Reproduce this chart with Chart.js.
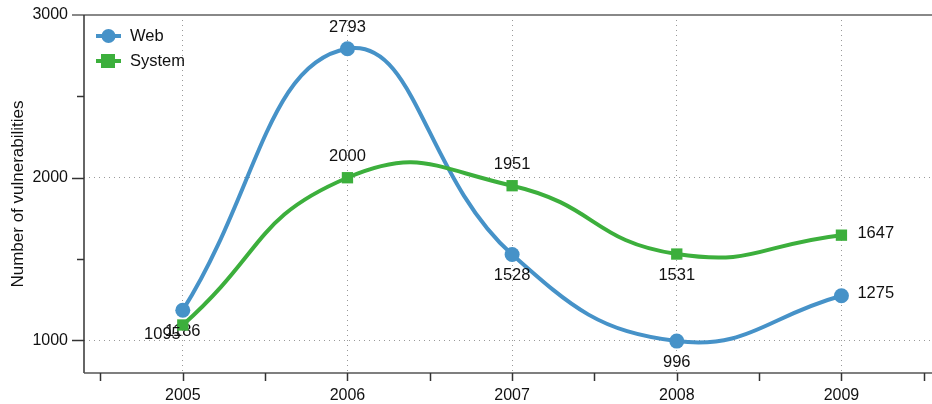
<!DOCTYPE html>
<html>
<head>
<meta charset="utf-8">
<script src="https://cdn.jsdelivr.net/npm/chart.js@4"></script>
<style>
  html, body { margin: 0; padding: 0; background: #fff; }
  #wrap { width: 932px; height: 404px; position: relative; }
</style>
</head>
<body>
<div id="wrap"><canvas id="vulnChart"></canvas></div>
<script>
// chart data
const years = [2005, 2006, 2007, 2008, 2009];
const webValues = [1186, 2793, 1528, 996, 1275];
const systemValues = [1095, 2000, 1951, 1531, 1647];
const yTicks = [1000, 2000, 3000];

// where each value label sits relative to its point
const webLabelPos = ['below', 'above', 'below', 'below', 'right'];
const systemLabelPos = ['leftbelow', 'above', 'above', 'below', 'right'];

const WEB_COLOR = '#4692c8';
const SYS_COLOR = '#3caf3c';
const FONT = '"Liberation Sans", Arial, Helvetica, sans-serif';

function toPoints(values) {
    return years.map((yr, i) => ({ x: yr, y: values[i] }));
}

// value labels, drawn right after each dataset so later series cover them
const valueLabels = {
    id: 'valueLabels',
    afterDatasetDraw(chart, args) {
        const ctx = chart.ctx;
        const ds = chart.data.datasets[args.index];
        const pos = ds.labelPos;
        ctx.save();
        ctx.font = '16.5px ' + FONT;
        ctx.fillStyle = '#111';
        args.meta.data.forEach((pt, i) => {
            const text = String(ds.data[i].y);
            let x = pt.x, y = pt.y;
            ctx.textAlign = 'center';
            ctx.textBaseline = 'middle';
            if (pos[i] === 'above') { y -= 21; }
            else if (pos[i] === 'below') { y += 21; }
            else if (pos[i] === 'right') { x += 16; y -= 2; ctx.textAlign = 'left'; }
            else if (pos[i] === 'leftbelow') { x -= 2; y += 9; ctx.textAlign = 'right'; }
            ctx.fillText(text, x, y);
        });
        ctx.restore();
    }
};

// axis frame, tick marks and the legend
const frame = {
    id: 'frame',
    beforeDatasetsDraw(chart) {
        const ctx = chart.ctx;
        const xs = chart.scales.x, ys = chart.scales.y;
        const area = chart.chartArea;
        ctx.save();
        // top line at 3000
        ctx.strokeStyle = '#888';
        ctx.lineWidth = 2;
        const yTop = ys.getPixelForValue(3000);
        ctx.beginPath();
        ctx.moveTo(area.left - 12, yTop);
        ctx.lineTo(chart.width, yTop);
        ctx.stroke();
        // left axis
        ctx.strokeStyle = '#333';
        ctx.lineWidth = 1.5;
        ctx.beginPath();
        ctx.moveTo(area.left, yTop);
        ctx.lineTo(area.left, area.bottom);
        ctx.stroke();
        // bottom axis
        ctx.strokeStyle = '#555';
        ctx.beginPath();
        ctx.moveTo(area.left, area.bottom);
        ctx.lineTo(chart.width, area.bottom);
        ctx.stroke();
        // y ticks, major and minor
        ctx.strokeStyle = '#333';
        [1000, 1500, 2000, 2500].forEach(v => {
            const py = Math.round(ys.getPixelForValue(v)) + 0.5;
            const len = v % 1000 === 0 ? 12 : 7;
            ctx.beginPath();
            ctx.moveTo(area.left - len, py);
            ctx.lineTo(area.left, py);
            ctx.stroke();
        });
        // x ticks at every half year
        for (let t = 2004.5; t <= 2009.5; t += 0.5) {
            const px = Math.round(xs.getPixelForValue(t)) + 0.5;
            ctx.beginPath();
            ctx.moveTo(px, area.bottom);
            ctx.lineTo(px, area.bottom + 8);
            ctx.stroke();
        }
        ctx.restore();
    },
    afterDraw(chart) {
        const ctx = chart.ctx;
        const items = chart.data.datasets.slice().sort((a, b) => a.legendIndex - b.legendIndex);
        ctx.save();
        items.forEach((ds, i) => {
            const cy = 36 + i * 25;
            ctx.strokeStyle = ds.borderColor;
            ctx.lineWidth = 4;
            ctx.beginPath();
            ctx.moveTo(96, cy);
            ctx.lineTo(121, cy);
            ctx.stroke();
            ctx.fillStyle = ds.borderColor;
            if (ds.pointStyle === 'rect') {
                ctx.fillRect(101, cy - 7, 14, 14);
            } else {
                ctx.beginPath();
                ctx.arc(108.5, cy, 7, 0, Math.PI * 2);
                ctx.fill();
            }
            ctx.fillStyle = '#111';
            ctx.font = '16.5px ' + FONT;
            ctx.textAlign = 'left';
            ctx.textBaseline = 'middle';
            ctx.fillText(ds.label, 130, cy);
        });
        ctx.restore();
    }
};

const ctx = document.getElementById('vulnChart').getContext('2d');

new Chart(ctx, {
    type: 'line',
    data: {
        datasets: [{
            label: 'Web',
            legendIndex: 0,
            order: 1,
            data: toPoints(webValues),
            labelPos: webLabelPos,
            borderColor: WEB_COLOR,
            backgroundColor: WEB_COLOR,
            borderWidth: 4,
            pointStyle: 'circle',
            pointRadius: 7.5,
            pointBorderWidth: 0,
            tension: 0.45
        }, {
            label: 'System',
            legendIndex: 1,
            order: 0,
            data: toPoints(systemValues),
            labelPos: systemLabelPos,
            borderColor: SYS_COLOR,
            backgroundColor: SYS_COLOR,
            borderWidth: 4,
            pointStyle: 'rect',
            pointRadius: 8,
            pointBorderWidth: 0,
            tension: 0.5
        }]
    },
    options: {
        responsive: true,
        maintainAspectRatio: false,
        animation: false,
        layout: { autoPadding: false, padding: { top: 15, right: 0, left: 8, bottom: 0 } },
        plugins: {
            legend: { display: false },
            tooltip: { enabled: false }
        },
        scales: {
            x: {
                type: 'linear',
                min: 2004.4,
                max: 2009.55,
                grid: {
                    color: ctx => Number.isInteger(ctx.tick.value) ? '#999' : 'transparent',
                    lineWidth: 1,
                    drawTicks: false
                },
                border: { display: false, dash: [1, 4] },
                afterBuildTicks: axis => { axis.ticks = years.map(v => ({ value: v })); },
                ticks: {
                    padding: 13,
                    color: '#111',
                    font: { family: FONT, size: 16 },
                    callback: v => String(v),
                    maxRotation: 0
                },
                afterFit: axis => {
                    axis.height = 31;
                    axis.paddingLeft = 0;
                    axis.paddingRight = 0;
                }
            },
            y: {
                min: 800,
                max: 3000,
                grid: {
                    color: ctx => ctx.tick.value === 3000 ? 'transparent' : '#999',
                    lineWidth: 1,
                    drawTicks: false
                },
                border: { display: false, dash: [1, 4] },
                afterBuildTicks: axis => { axis.ticks = yTicks.map(v => ({ value: v })); },
                ticks: {
                    padding: 16,
                    color: '#111',
                    font: { family: FONT, size: 16 },
                    callback: v => String(v)
                },
                title: {
                    display: true,
                    text: 'Number of vulnerabilities',
                    color: '#111',
                    font: { family: FONT, size: 17 },
                    padding: { top: 0, bottom: 0 }
                },
                afterFit: axis => {
                    axis.width = 76;
                    axis.paddingTop = 0;
                    axis.paddingBottom = 0;
                }
            }
        }
    },
    plugins: [frame, valueLabels]
});
</script>
</body>
</html>
